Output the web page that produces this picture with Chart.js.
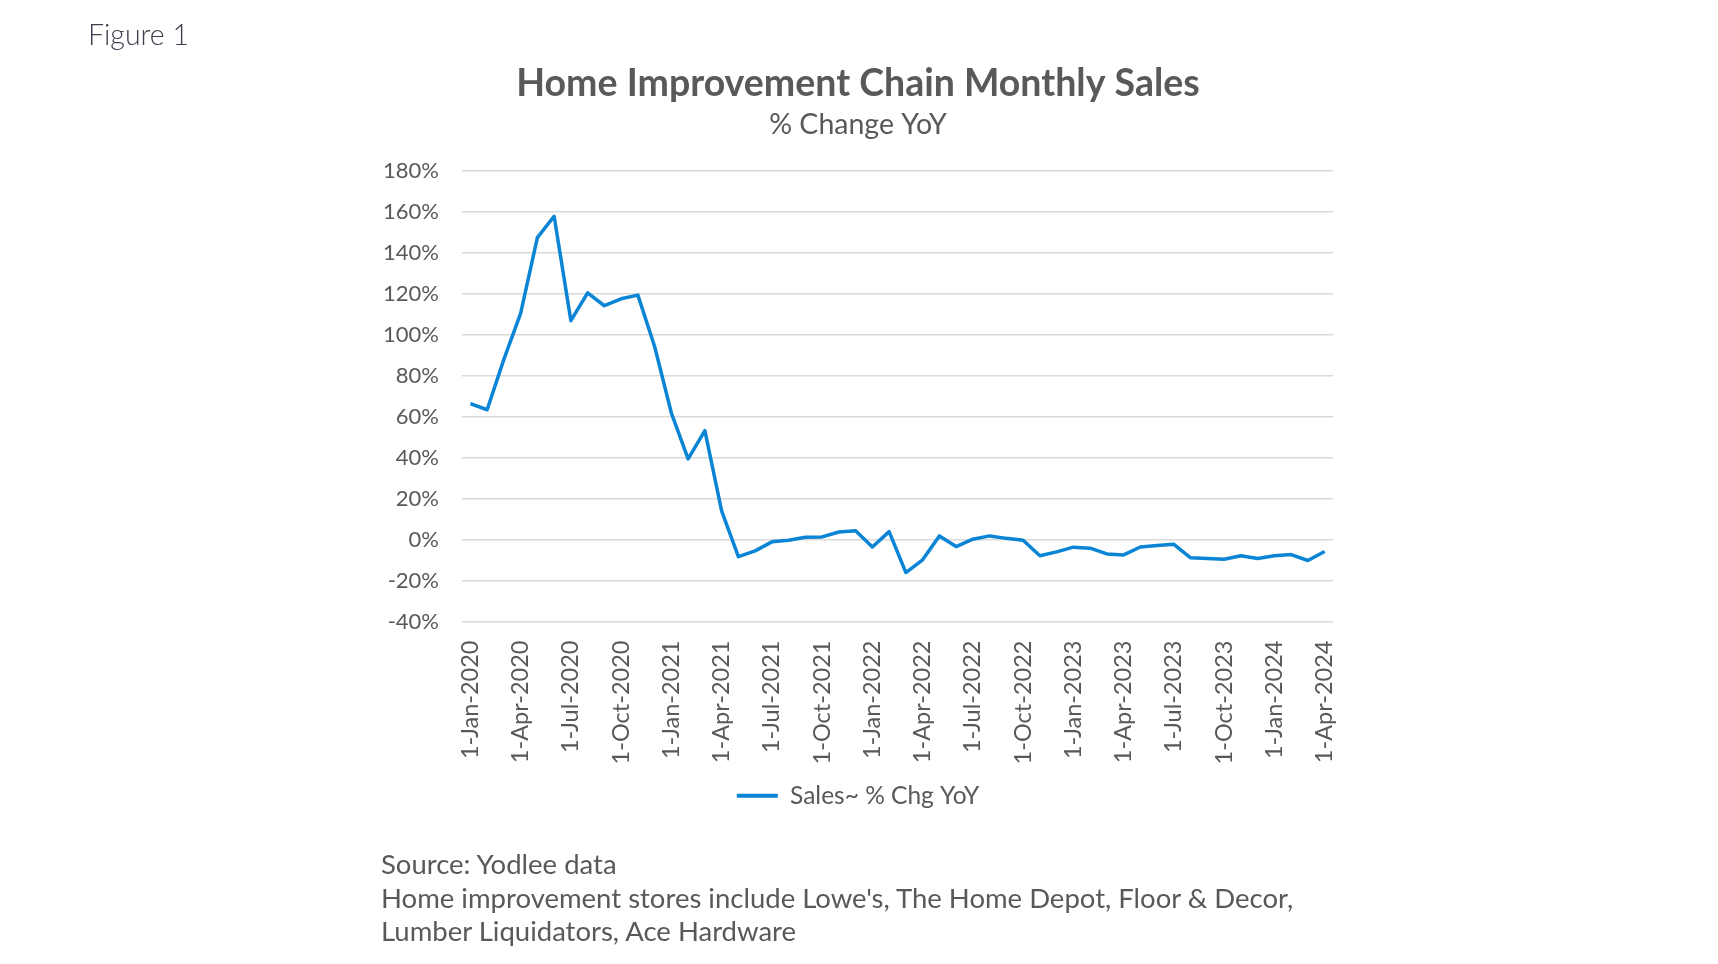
<!DOCTYPE html>
<html>
<head>
<meta charset="utf-8">
<script src="https://cdn.jsdelivr.net/npm/chart.js@4.4.1/dist/chart.umd.min.js"></script>
<style>
  html, body { margin: 0; padding: 0; background: #ffffff; }
  #wrap { position: relative; width: 1718px; height: 964px; overflow: hidden; }
  #c { position: absolute; left: 0; top: 0; }
  #fig { position: absolute; left: 88px; top: 17px; font-family: Lato, sans-serif; font-weight: 300; font-size: 28.5px; color: #3d3d4d; }
  #foot { position: absolute; left: 381px; top: 847px; font-family: Lato, sans-serif; font-size: 27.5px; line-height: 33.5px; color: #595959; }
</style>
</head>
<body>
<div id="wrap">
  <canvas id="c" width="1718" height="964"></canvas>
  <div id="fig">Figure 1</div>
  <div id="foot">Source: Yodlee data<br>Home improvement stores include Lowe's, The Home Depot, Floor &amp; Decor,<br>Lumber Liquidators, Ace Hardware</div>
</div>
<script>
const categories = [
  "1-Jan-2020","1-Feb-2020","1-Mar-2020","1-Apr-2020","1-May-2020","1-Jun-2020",
  "1-Jul-2020","1-Aug-2020","1-Sep-2020","1-Oct-2020","1-Nov-2020","1-Dec-2020",
  "1-Jan-2021","1-Feb-2021","1-Mar-2021","1-Apr-2021","1-May-2021","1-Jun-2021",
  "1-Jul-2021","1-Aug-2021","1-Sep-2021","1-Oct-2021","1-Nov-2021","1-Dec-2021",
  "1-Jan-2022","1-Feb-2022","1-Mar-2022","1-Apr-2022","1-May-2022","1-Jun-2022",
  "1-Jul-2022","1-Aug-2022","1-Sep-2022","1-Oct-2022","1-Nov-2022","1-Dec-2022",
  "1-Jan-2023","1-Feb-2023","1-Mar-2023","1-Apr-2023","1-May-2023","1-Jun-2023",
  "1-Jul-2023","1-Aug-2023","1-Sep-2023","1-Oct-2023","1-Nov-2023","1-Dec-2023",
  "1-Jan-2024","1-Feb-2024","1-Mar-2024","1-Apr-2024"
];
const salesChgYoY = [
  66.4, 63.4, 88.0, 110.5, 147.5, 157.9, 106.9, 120.5, 114.2, 117.6, 119.4, 94.3,
  61.8, 39.4, 53.2, 14.0, -8.3, -5.5, -1.1, -0.3, 1.1, 1.3, 3.7, 4.3,
  -3.6, 3.9, -16.1, -9.9, 1.8, -3.4, 0.2, 1.8, 0.6, -0.3, -7.9, -6.0,
  -3.7, -4.2, -7.0, -7.5, -3.6, -2.9, -2.3, -8.9, -9.2, -9.6, -7.9, -9.2,
  -7.9, -7.3, -10.2, -5.8
];
const yTicks = [-40, -20, 0, 20, 40, 60, 80, 100, 120, 140, 160, 180];
const seriesName = "Sales~ % Chg YoY";
const titleText = "Home Improvement Chain Monthly Sales";
const subtitleText = "% Change YoY";

const BLUE = "#0A84D4";
const GREY = "#595959";
const FONT = "Lato, sans-serif";

new Chart(document.getElementById("c"), {
  type: "line",
  data: {
    labels: categories,
    datasets: [{
      label: seriesName,
      data: salesChgYoY,
      borderColor: BLUE,
      backgroundColor: BLUE,
      borderWidth: 3.5,
      pointRadius: 0,
      tension: 0,
      borderJoinStyle: "round",
      fill: false
    }]
  },
  options: {
    responsive: false,
    animation: false,
    layout: { padding: { left: 383, right: 385, top: 0, bottom: 146 } },
    scales: {
      x: {
        type: "category",
        offset: true,
        grid: { display: false, drawTicks: false },
        border: { display: false },
        afterFit: (s) => { s.height = 152; },
        ticks: {
          autoSkip: false,
          minRotation: 90,
          maxRotation: 90,
          padding: 19,
          color: GREY,
          font: { family: FONT, size: 23.5 },
          callback: function (value, index) {
            return index % 3 === 0 ? this.getLabelForValue(value) : "";
          }
        }
      },
      y: {
        min: yTicks[0],
        max: yTicks[yTicks.length - 1],
        afterFit: (s) => { s.width = 79; },
        afterBuildTicks: (s) => { s.ticks = yTicks.map(v => ({ value: v })); },
        grid: { color: "#d9d9d9", lineWidth: 1.5, drawTicks: false },
        border: { display: false },
        ticks: {
          padding: 23,
          color: GREY,
          font: { family: FONT, size: 22 },
          callback: (v) => v + "%"
        }
      }
    },
    plugins: {
      title: {
        display: true,
        text: titleText,
        color: GREY,
        font: { family: FONT, size: 37.5, weight: "bold" },
        padding: { top: 61, bottom: 0 }
      },
      subtitle: {
        display: true,
        text: subtitleText,
        color: GREY,
        font: { family: FONT, size: 28.5 },
        padding: { top: 2.2, bottom: 28.6 }
      },
      legend: {
        display: true,
        position: "bottom",
        labels: {
          boxWidth: 41,
          boxHeight: 4,
          padding: 10,
          color: GREY,
          font: { family: FONT, size: 24.5 },
          generateLabels: (chart) => Chart.defaults.plugins.legend.labels.generateLabels(chart).map(it => Object.assign(it, { lineWidth: 0, strokeStyle: "rgba(0,0,0,0)" }))
        }
      },
      tooltip: { enabled: false }
    }
  }
});
</script>
</body>
</html>
